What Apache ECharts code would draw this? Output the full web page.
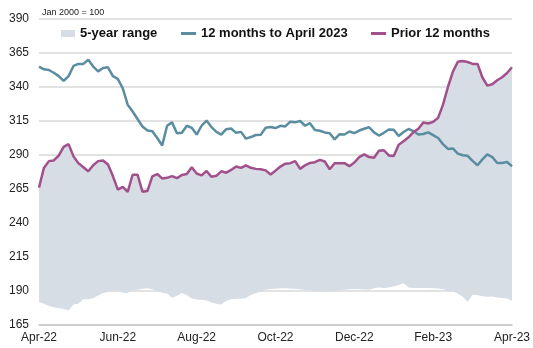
<!DOCTYPE html>
<html><head><meta charset="utf-8">
<script src="https://cdn.jsdelivr.net/npm/echarts@6/dist/echarts.min.js"></script>
<style>html,body{margin:0;padding:0;background:#fff}#c{width:533px;height:348px}</style>
</head><body><div id="c"></div>
<script>
// x tick labels (every two months, Apr-22 .. Apr-23)
const xLabels = ['Apr-22','Jun-22','Aug-22','Oct-22','Dec-22','Feb-23','Apr-23'];
const unitNote = 'Jan 2000 = 100';
// 97 readings, evenly spaced from Apr-22 to Apr-23 (8 readings per month)
const last12 = [355,353,352.5,350.5,348,344.5,348,355.5,357,357,360,355,351.5,354,354.5,348,346,339,327,322,316.5,311,308,307.5,302.5,297,311.5,314,306,306.4,311.5,310,305,311.5,315.3,310.5,307,305,309,309.5,306.3,307,302,303.2,304.7,304.8,310,310.6,309.8,311.5,311,314.5,314,315,311.5,313.4,308.4,307.8,306.6,306,301.5,305.3,305.1,307.3,306.1,308,309.3,310.4,306.6,304.3,306.3,308.7,308.6,304,306.9,309.1,307.6,305.1,305.4,306.6,304.6,302.5,298,294.5,294.8,291,289.8,289.4,285.7,282.5,286.8,290.5,288.5,284.1,284.1,284.8,281.7];
const prior12 = [266,280.5,285.5,286,289.5,296,298,289,284,281,278,282.5,285.5,286,283,274.5,264.5,266.5,262.8,275.5,275.5,263,263.5,274.3,276,272.8,273.2,274.5,273,275.3,276,281,276.4,275,278.2,274,274.7,278,277,279,281.5,280.5,282.4,280.6,279.8,279.5,278.7,275.7,278.5,281.5,283.6,284,285.5,279.8,282.4,284.2,284.7,286.4,285.2,279.5,284,283.9,284,281.8,284.5,288.5,290.5,288.5,288,293.1,293.5,289.7,289.2,297.6,300.1,303,306.8,309.3,313.9,313.2,314.4,317.3,327,340,351.2,358.5,359.1,358.4,357,357,347,341,342,345,347.2,350.3,354.5];
const rangeLow = [182,180.7,179,178,177.4,176.8,175.6,180,180.6,184.2,184,184.7,186.7,188.5,189.2,190.5,190.5,188.7,188.5,190.8,191,191.6,192.1,191.2,189.8,188.7,188.2,185,186.5,188.5,187,184.4,183.8,183.6,183,181.5,180.7,180,182.8,184,184.3,184.3,184.8,187,188.4,189.8,191,191.4,191.7,192,192.1,191.9,191.6,191.2,190.8,190.5,190,189.7,189.6,189.7,190,190.6,191,191.2,191.3,191.2,191.1,191,192,192.6,192.2,192.5,193.3,194.5,195.7,192.5,192.2,192.2,192.2,192.2,192,191.8,191.2,190.2,189.9,188,186,182,187.3,187,186.2,185.7,185.9,185.3,184.8,184.4,182.6];
const rangeHigh = prior12; // upper edge of 5-year range coincides with prior 12 months

const n = last12.length;
const perLabel = (n - 1) / (xLabels.length - 1); // readings between labels
const cats = last12.map((_, i) => String(i));
const bandDiff = rangeHigh.map((v, i) => +(v - rangeLow[i]).toFixed(2));

const BLUE = '#5b8da1', PURPLE = '#a2508c', GREY = '#d6dde5';
const font = 'Liberation Sans, Arial, sans-serif';
const chart = echarts.init(document.getElementById('c'), null, {renderer: 'canvas'});
const legendText = {fontFamily: font, fontSize: 13, fontWeight: 'bold', color: '#111'};
chart.setOption({
  animation: false,
  textStyle: {fontFamily: font},
  grid: {left: 39, right: 20, top: 19, bottom: 23, containLabel: false},
  graphic: [{type: 'text', left: 42, top: 8, style: {text: unitNote, font: '9px ' + font, fill: '#222'}}],
  legend: [
    {data: [{name: '5-year range', icon: 'rect'}], left: 61, top: 27, padding: 0, itemWidth: 14, itemHeight: 7, textStyle: legendText, selectedMode: false},
    {data: [{name: '12 months to April 2023', icon: 'rect'}], left: 181, top: 27, padding: 0, itemWidth: 15, itemHeight: 3, textStyle: legendText, selectedMode: false},
    {data: [{name: 'Prior 12 months', icon: 'rect'}], left: 371, top: 27, padding: 0, itemWidth: 15, itemHeight: 3, textStyle: legendText, selectedMode: false}
  ],
  xAxis: {
    type: 'category', data: cats, boundaryGap: false,
    axisLine: {show: true, lineStyle: {color: '#c8c8c8', width: 1.5}},
    axisTick: {show: false},
    splitLine: {show: false},
    axisLabel: {interval: perLabel - 1, formatter: (v, i) => xLabels[Math.round(i / perLabel)], color: '#222', fontSize: 12, margin: 7, fontFamily: font}
  },
  yAxis: {
    type: 'value', min: 165, max: 390, interval: 25,
    axisLine: {show: false}, axisTick: {show: false},
    splitLine: {lineStyle: {color: '#d9d9d9', width: 1.5}},
    axisLabel: {color: '#222', fontSize: 12, margin: 10, fontFamily: font}
  },
  series: [
    {name: 'rangeLow', type: 'line', stack: 'band', data: rangeLow, symbol: 'none', lineStyle: {opacity: 0}, silent: true, z: 2},
    {name: '5-year range', type: 'line', stack: 'band', data: bandDiff, symbol: 'none', itemStyle: {color: GREY}, lineStyle: {opacity: 0}, areaStyle: {color: GREY, opacity: 1}, z: 2},
    {name: '12 months to April 2023', type: 'line', data: last12, symbol: 'none', itemStyle: {color: BLUE}, lineStyle: {color: BLUE, width: 2.5}, z: 5},
    {name: 'Prior 12 months', type: 'line', data: prior12, symbol: 'none', itemStyle: {color: PURPLE}, lineStyle: {color: PURPLE, width: 2.5}, z: 5}
  ]
});
</script></body></html>
